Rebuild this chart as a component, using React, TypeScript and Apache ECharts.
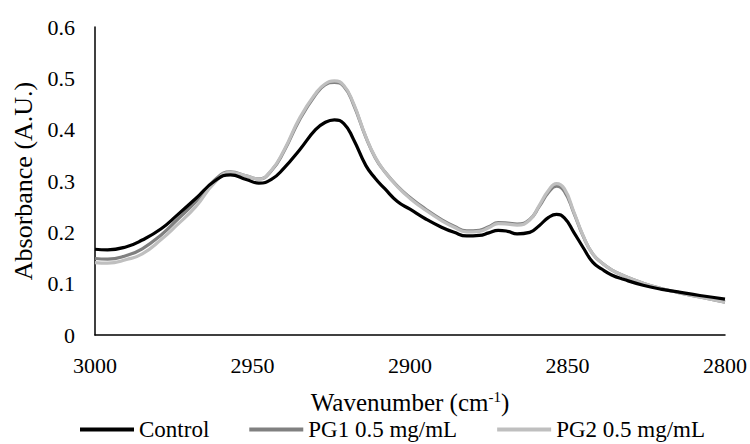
import React, { useEffect, useRef } from "react";
import * as echarts from "echarts";

// Wavenumber sampling (cm-1) of the C–H stretching region
const wavenumbers = [
  3000, 2996, 2990, 2985, 2979, 2974, 2968, 2962, 2957, 2952, 2948, 2944, 2940,
  2935, 2930, 2927, 2924, 2921, 2918, 2914, 2911, 2908, 2904, 2900, 2895, 2890,
  2886, 2882, 2878, 2875, 2872, 2869, 2866, 2862, 2859, 2856, 2853.5, 2851, 2848,
  2845, 2842, 2839, 2836, 2832, 2826, 2820, 2815, 2808, 2800,
];

const control = [
  0.167, 0.166, 0.172, 0.185, 0.207, 0.233, 0.266, 0.300, 0.312, 0.303, 0.296,
  0.303, 0.325, 0.361, 0.400, 0.414, 0.419, 0.412, 0.382, 0.330, 0.305, 0.285,
  0.260, 0.245, 0.226, 0.210, 0.200, 0.193, 0.194, 0.199, 0.204, 0.202, 0.197,
  0.200, 0.213, 0.229, 0.235, 0.228, 0.200, 0.170, 0.142, 0.128, 0.117, 0.108,
  0.097, 0.089, 0.084, 0.077, 0.070,
];

const pg1 = [
  0.149, 0.148, 0.155, 0.168, 0.195, 0.224, 0.260, 0.302, 0.318, 0.310, 0.304,
  0.320, 0.358, 0.420, 0.468, 0.487, 0.492, 0.484, 0.450, 0.385, 0.345, 0.318,
  0.290, 0.268, 0.245, 0.225, 0.212, 0.203, 0.204, 0.211, 0.219, 0.218, 0.216,
  0.225, 0.250, 0.278, 0.290, 0.280, 0.238, 0.192, 0.158, 0.140, 0.127, 0.115,
  0.101, 0.090, 0.083, 0.074, 0.064,
];

const pg2 = [
  0.141, 0.140, 0.147, 0.158, 0.186, 0.214, 0.250, 0.297, 0.317, 0.310, 0.304,
  0.321, 0.360, 0.423, 0.470, 0.489, 0.495, 0.486, 0.452, 0.386, 0.346, 0.318,
  0.289, 0.266, 0.243, 0.223, 0.210, 0.201, 0.202, 0.209, 0.217, 0.216, 0.214,
  0.224, 0.252, 0.282, 0.295, 0.285, 0.240, 0.193, 0.158, 0.140, 0.127, 0.115,
  0.101, 0.090, 0.083, 0.074, 0.064,
];

const seriesNames = ["Control", "PG1 0.5 mg/mL", "PG2 0.5 mg/mL"];
const seriesColors = ["#000000", "#808080", "#bfbfbf"];

const FONT = "Liberation Serif, Times New Roman, serif";

const pairs = (ys: number[]) => wavenumbers.map((x, i) => [x, ys[i]]);

export default function App() {
  const ref = useRef<HTMLDivElement>(null);

  useEffect(() => {
    if (!ref.current) return;
    const chart = echarts.init(ref.current, undefined, { renderer: "svg" });
    const values = [control, pg1, pg2];

    chart.setOption({
      animation: false,
      backgroundColor: "#ffffff",
      textStyle: { fontFamily: FONT },
      grid: { left: 95, right: 25, top: 27, bottom: 109 },
      xAxis: {
        type: "value",
        inverse: true,
        min: 2800,
        max: 3000,
        interval: 50,
        name: "Wavenumber (cm{sup|-1})",
        nameLocation: "middle",
        nameGap: 54,
        nameTextStyle: {
          fontFamily: FONT,
          fontSize: 25,
          lineHeight: 26,
          color: "#000",
          rich: {
            sup: {
              fontFamily: FONT,
              fontSize: 15,
              lineHeight: 26,
              color: "#000",
              verticalAlign: "top",
              padding: [0, 0, 4, 0],
            },
          },
        },
        axisLine: { show: true, lineStyle: { color: "#000", width: 1.5 } },
        axisTick: { show: false },
        splitLine: { show: false },
        axisLabel: {
          fontFamily: FONT,
          fontSize: 22,
          color: "#000",
          margin: 19,
          formatter: (v: number) => String(v),
        },
      },
      yAxis: {
        type: "value",
        min: 0,
        max: 0.6,
        interval: 0.1,
        name: "Absorbance (A.U.)",
        nameLocation: "middle",
        nameGap: 59,
        nameTextStyle: { fontFamily: FONT, fontSize: 26, color: "#000" },
        axisLine: { show: true, lineStyle: { color: "#000", width: 1.5 } },
        axisTick: { show: false },
        splitLine: { show: false },
        axisLabel: {
          fontFamily: FONT,
          fontSize: 22,
          color: "#000",
          margin: 20,
          formatter: (v: number) => (v === 0 ? "0" : v.toFixed(1)),
        },
      },
      legend: {
        bottom: -2,
        left: 75,
        itemWidth: 54,
        itemHeight: 4,
        itemGap: 40,
        textStyle: { fontFamily: FONT, fontSize: 23, lineHeight: 23, color: "#000" },
        data: seriesNames.map((n) => ({ name: n, icon: "rect" })),
      },
      series: seriesNames.map((name, i) => ({
        name,
        type: "line",
        smooth: 0.5,
        symbol: "none",
        data: pairs(values[i]),
        lineStyle: { color: seriesColors[i], width: 3.2 },
        itemStyle: { color: seriesColors[i] },
        z: i === 0 ? 3 : 2,
      })),
    });

    return () => chart.dispose();
  }, []);

  return (
    <div
      ref={ref}
      style={{ position: "fixed", left: 0, top: 0, width: 750, height: 444 }}
    />
  );
}
